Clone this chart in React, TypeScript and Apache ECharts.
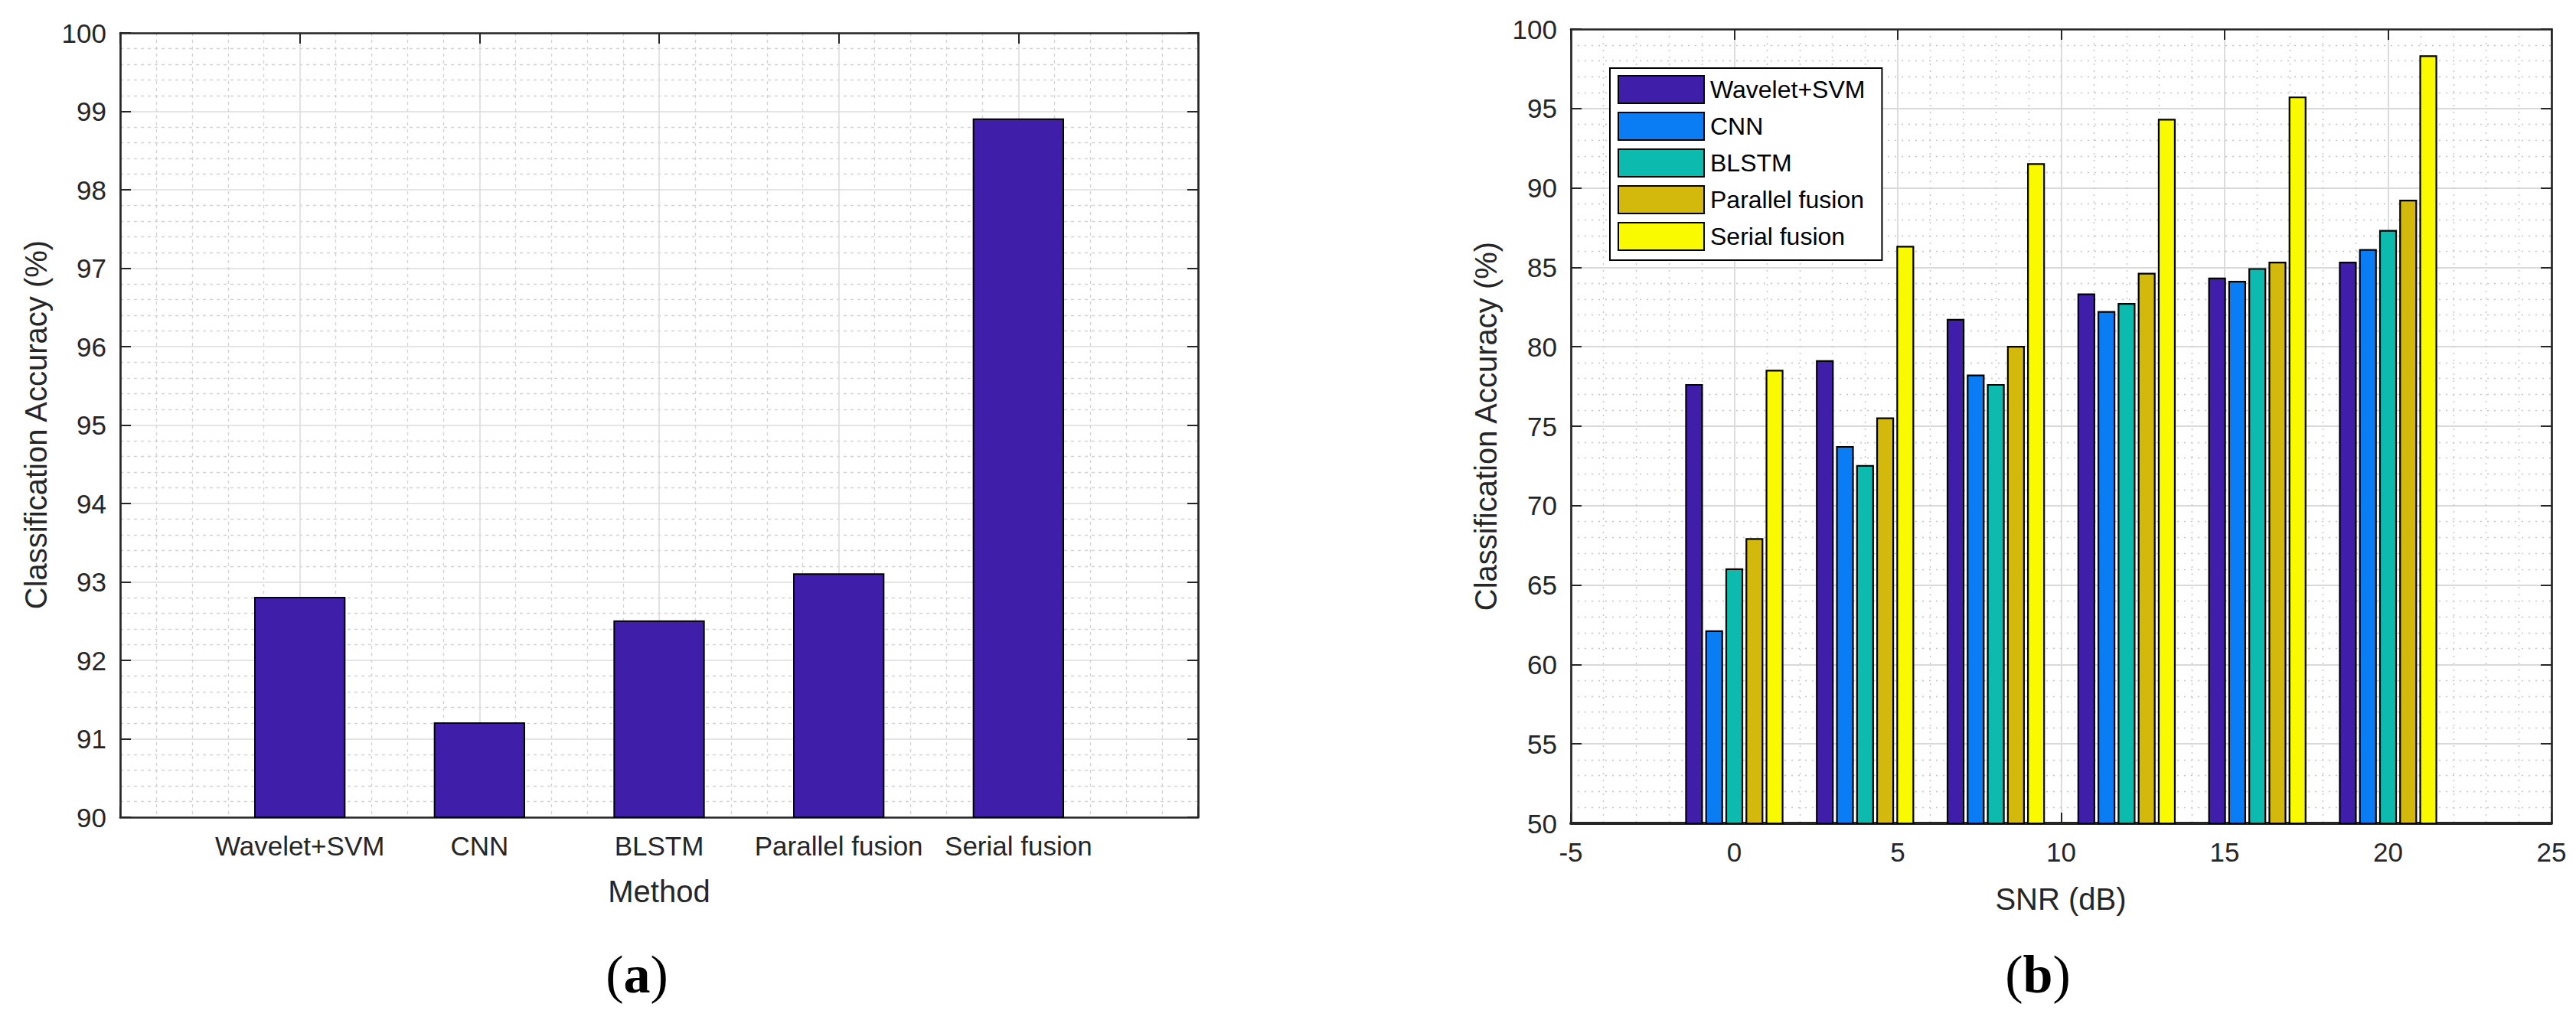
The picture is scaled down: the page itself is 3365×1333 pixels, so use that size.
import React, { useEffect, useRef } from "react";
import * as echarts from "echarts";

// ---------- data ----------
const METHODS = ["Wavelet+SVM", "CNN", "BLSTM", "Parallel fusion", "Serial fusion"];
const ACCURACY_A = [92.8, 91.2, 92.5, 93.1, 98.9];

const SNR = [0, 4, 8, 12, 16, 20];
const WAVELET_SVM = [77.6, 79.1, 81.7, 83.3, 84.3, 85.3];
const CNN = [62.1, 73.7, 78.2, 82.2, 84.1, 86.1];
const BLSTM = [66.0, 72.5, 77.6, 82.7, 84.9, 87.3];
const PARALLEL = [67.9, 75.5, 80.0, 84.6, 85.3, 89.2];
const SERIAL = [78.5, 86.3, 91.5, 94.3, 95.7, 98.3];

const SERIES_B = [
  { name: "Wavelet+SVM", values: WAVELET_SVM, color: "#3F1FA9" },
  { name: "CNN", values: CNN, color: "#0A7DF5" },
  { name: "BLSTM", values: BLSTM, color: "#0CBBAD" },
  { name: "Parallel fusion", values: PARALLEL, color: "#D2B90C" },
  { name: "Serial fusion", values: SERIAL, color: "#F9F900" },
];

const FONT = "Liberation Sans, Arial, Helvetica, sans-serif";
const SERIF = "Liberation Serif, Times New Roman, serif";
const AX = "#262626";

export default function App() {
  const ref = useRef<HTMLDivElement>(null);

  useEffect(() => {
    document.body.style.margin = "0";
    if (!ref.current) return;
    const chart = echarts.init(ref.current, null, { renderer: "svg" });

    const axisLine = (w = 2.7) => ({ show: true, onZero: false, lineStyle: { color: AX, width: w } });
    const tick = { show: true, inside: true, length: 14, lineStyle: { color: AX, width: 2 } };
    const label = (margin: number) => ({ color: AX, fontSize: 35, fontFamily: FONT, margin });

    const gridA = { left: 157, top: 43, width: 1408, height: 1025, show: true, backgroundColor: "#fff", borderWidth: 0 };
    const gridB = { left: 2052, top: 38, width: 1281, height: 1038, show: true, backgroundColor: "#fff", borderWidth: 0 };

    const majorA = { show: true, lineStyle: { color: "#dcdcdc", width: 1.6, type: "solid" } };
    const minorA = { show: true, lineStyle: { color: "#d2d2d2", width: 1.3, type: [4, 5] } };
    const majorB = { show: true, lineStyle: { color: "#d9d9d9", width: 1.8, type: "solid" } };
    const minorB = { show: true, lineStyle: { color: "#c4c4c4", width: 1.4, type: [2, 7] } };

    const barA = 0.5;
    const nB = SERIES_B.length;
    const groupW = Math.min(0.8, nB / (nB + 1.5)) * (SNR[1] - SNR[0]);
    const slot = groupW / nB;
    const barB = slot * 0.8;

    const makeRender = (xOff: number, width: number, base: number, color: string, lw: number) =>
      (params: any, api: any) => {
        const x = api.value(0) + xOff;
        const top = api.coord([x, api.value(1)]);
        const bot = api.coord([x, base]);
        const w = api.size([width, 0])[0];
        return {
          type: "rect",
          shape: { x: top[0] - w / 2, y: top[1], width: w, height: bot[1] - top[1] },
          style: { fill: color, stroke: "#000", lineWidth: lw },
        };
      };

    const seriesB = SERIES_B.map((s, i) => ({
      type: "custom",
      name: s.name,
      xAxisIndex: 2,
      yAxisIndex: 2,
      itemStyle: { color: s.color },
      encode: { x: 0, y: 1 },
      data: SNR.map((x, j) => [x, s.values[j]]),
      renderItem: makeRender((i - (nB - 1) / 2) * slot, barB, 50, s.color, 2.2),
      z: 3,
    }));

    const option: any = {
      animation: false,
      backgroundColor: "#fff",
      grid: [gridA, gridB],
      xAxis: [
        {
          type: "value", gridIndex: 0, position: "bottom", min: 0, max: 6, interval: 1,
          axisLine: axisLine(), axisTick: tick,
          axisLabel: {
            ...label(20),
            formatter: (v: number) => (v >= 1 && v <= METHODS.length ? METHODS[Math.round(v) - 1] : ""),
          },
          splitLine: majorA,
          minorTick: { show: false, splitNumber: 5 },
          minorSplitLine: minorA,
        },
        {
          type: "value", gridIndex: 0, position: "top", min: 0, max: 6, interval: 1,
          axisLine: axisLine(), axisTick: tick, axisLabel: { show: false }, splitLine: { show: false },
        },
        {
          type: "value", gridIndex: 1, position: "bottom", min: -5, max: 25, interval: 5,
          axisLine: axisLine(4), axisTick: tick, axisLabel: label(20),
          splitLine: majorB,
          minorTick: { show: false, splitNumber: 5 },
          minorSplitLine: minorB,
        },
        {
          type: "value", gridIndex: 1, position: "top", min: -5, max: 25, interval: 5,
          axisLine: axisLine(), axisTick: tick, axisLabel: { show: false }, splitLine: { show: false },
        },
      ],
      yAxis: [
        {
          type: "value", gridIndex: 0, position: "left", min: 90, max: 100, interval: 1,
          axisLine: axisLine(), axisTick: tick, axisLabel: label(18),
          splitLine: majorA,
          minorTick: { show: false, splitNumber: 5 },
          minorSplitLine: minorA,
        },
        {
          type: "value", gridIndex: 0, position: "right", min: 90, max: 100, interval: 1,
          axisLine: axisLine(), axisTick: tick, axisLabel: { show: false }, splitLine: { show: false },
        },
        {
          type: "value", gridIndex: 1, position: "left", min: 50, max: 100, interval: 5,
          axisLine: axisLine(), axisTick: tick, axisLabel: label(18),
          splitLine: majorB,
          minorTick: { show: false, splitNumber: 5 },
          minorSplitLine: minorB,
        },
        {
          type: "value", gridIndex: 1, position: "right", min: 50, max: 100, interval: 5,
          axisLine: axisLine(), axisTick: tick, axisLabel: { show: false }, splitLine: { show: false },
        },
      ],
      legend: {
        show: true,
        orient: "vertical",
        left: 2103,
        top: 89,
        padding: [9, 22, 12, 10],
        itemGap: 10,
        itemWidth: 112,
        itemHeight: 36,
        icon: "rect",
        backgroundColor: "#fff",
        borderColor: "#000",
        borderWidth: 2,
        itemStyle: { borderColor: "#000", borderWidth: 2 },
        textStyle: { color: "#000", fontSize: 32, fontFamily: FONT, padding: [0, 0, 0, 3] },
        data: SERIES_B.map((s) => s.name),
        selectedMode: false,
        z: 10,
      },
      series: [
        {
          type: "custom",
          name: "Accuracy",
          xAxisIndex: 0,
          yAxisIndex: 0,
          encode: { x: 0, y: 1 },
          data: ACCURACY_A.map((v, i) => [i + 1, v]),
          renderItem: makeRender(0, barA, 90, "#3F1FA9", 2),
          z: 3,
        },
        ...seriesB,
      ],
      graphic: [
        {
          type: "text", x: 47, y: 555, rotation: Math.PI / 2,
          style: { text: "Classification Accuracy (%)", fontSize: 40, fontFamily: FONT, fill: AX, align: "center", verticalAlign: "middle" },
        },
        {
          type: "text", x: 861, y: 1165,
          style: { text: "Method", fontSize: 40, fontFamily: FONT, fill: AX, align: "center", verticalAlign: "middle" },
        },
        {
          type: "text", x: 832, y: 1273,
          style: {
            text: "{p|(}{b|a}{p|)}", align: "center", verticalAlign: "middle",
            rich: {
              p: { fontSize: 70, fontFamily: SERIF, fill: "#000" },
              b: { fontSize: 70, fontFamily: SERIF, fontWeight: "bold", fill: "#000" },
            },
          },
        },
        {
          type: "text", x: 1941, y: 557, rotation: Math.PI / 2,
          style: { text: "Classification Accuracy (%)", fontSize: 40, fontFamily: FONT, fill: AX, align: "center", verticalAlign: "middle" },
        },
        {
          type: "text", x: 2692, y: 1175,
          style: { text: "SNR (dB)", fontSize: 40, fontFamily: FONT, fill: AX, align: "center", verticalAlign: "middle" },
        },
        {
          type: "text", x: 2662, y: 1273,
          style: {
            text: "{p|(}{b|b}{p|)}", align: "center", verticalAlign: "middle",
            rich: {
              p: { fontSize: 70, fontFamily: SERIF, fill: "#000" },
              b: { fontSize: 70, fontFamily: SERIF, fontWeight: "bold", fill: "#000" },
            },
          },
        },
      ],
    };

    chart.setOption(option);
    return () => chart.dispose();
  }, []);

  return <div ref={ref} style={{ width: 3365, height: 1333 }} />;
}
